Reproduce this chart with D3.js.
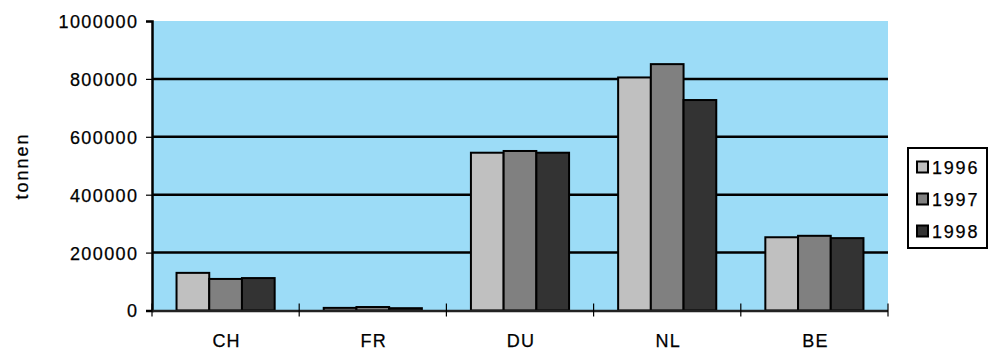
<!DOCTYPE html>
<html>
<head>
<meta charset="utf-8">
<script src="https://cdn.jsdelivr.net/npm/d3@7"></script>
<style>
  html, body { margin: 0; padding: 0; background: #fff; }
  svg { display: block; }
  text { font-family: "Liberation Sans", Arial, sans-serif; fill: #000; }
</style>
</head>
<body>
<svg id="chart" width="990" height="350"></svg>
<script>
// Tonnages per country, 1996-1998
const categories = ["CH", "FR", "DU", "NL", "BE"];
const years = ["1996", "1997", "1998"];
const values1996 = [130000, 9000, 545000, 805000, 253000];
const values1997 = [109000, 12000, 551000, 851000, 258000];
const values1998 = [112000, 8000, 545000, 727000, 250000];
const yTicks = [0, 200000, 400000, 600000, 800000, 1000000];
const yLabel = "tonnen";

const seriesValues = [values1996, values1997, values1998];
const colors = ["#c0c0c0", "#808080", "#333333"];

const svg = d3.select("#chart");
const plot = { left: 152, right: 888, top: 21, bottom: 310.5 };

const x0 = d3.scaleBand().domain(categories).range([plot.left, plot.right]).padding(0);
const x1 = d3.scaleBand().domain(years).range([0, x0.bandwidth()])
  .paddingInner(0).paddingOuter(0.75);
const y = d3.scaleLinear().domain([0, 1000000]).range([plot.bottom, plot.top]);
const color = d3.scaleOrdinal().domain(years).range(colors);

// plot background
svg.append("rect")
  .attr("x", plot.left).attr("y", plot.top)
  .attr("width", plot.right - plot.left).attr("height", plot.bottom - plot.top)
  .attr("fill", "#9cdcf7");

// horizontal gridlines
svg.append("g").selectAll("line")
  .data(yTicks.filter(v => v > 0 && v < 1000000))
  .join("line")
  .attr("x1", plot.left).attr("x2", plot.right)
  .attr("y1", d => y(d)).attr("y2", d => y(d))
  .attr("stroke", "#000").attr("stroke-width", 2.5);

// bars
const rows = categories.map((c, i) => ({ cat: c, vals: years.map((yr, j) => ({ yr, v: seriesValues[j][i] })) }));
svg.append("g").selectAll("g")
  .data(rows)
  .join("g")
  .attr("transform", d => `translate(${x0(d.cat)},0)`)
  .selectAll("rect")
  .data(d => d.vals)
  .join("rect")
  .attr("x", d => x1(d.yr))
  .attr("y", d => y(d.v))
  .attr("width", x1.bandwidth())
  .attr("height", d => y(0) - y(d.v))
  .attr("fill", d => color(d.yr))
  .attr("stroke", "#000")
  .attr("stroke-width", 2);

// y axis
const yAxis = svg.append("g")
  .attr("transform", `translate(${plot.left},0)`)
  .call(d3.axisLeft(y).tickValues(yTicks).tickFormat(d3.format("d")).tickSize(6).tickPadding(9));
yAxis.select(".domain").attr("stroke", "#000").attr("stroke-width", 2.5);
yAxis.selectAll(".tick line").attr("stroke", "#000").attr("stroke-width", 1.2);
yAxis.selectAll(".tick text")
  .style("font-family", "'Liberation Sans', Arial, sans-serif")
  .attr("font-size", 18)
  .attr("letter-spacing", "1.4px")
  .attr("dx", "1.4px")
  .attr("dy", "0.36em")
  .attr("fill", "#000")
  .attr("stroke", "#000").attr("stroke-width", 0.25);

// x axis line and boundary ticks
const xAxis = svg.append("g");
xAxis.append("line")
  .attr("x1", plot.left).attr("x2", plot.right)
  .attr("y1", plot.bottom + 0.5).attr("y2", plot.bottom + 0.5)
  .attr("stroke", "#222").attr("stroke-width", 2.5);
const boundaries = categories.map(c => x0(c)).concat([x0(categories[categories.length - 1]) + x0.bandwidth()]);
xAxis.selectAll("line.b")
  .data(boundaries)
  .join("line")
  .attr("class", "b")
  .attr("x1", d => d).attr("x2", d => d)
  .attr("y1", plot.bottom - 7).attr("y2", plot.bottom + 6)
  .attr("stroke", "#000").attr("stroke-width", 1.2);
xAxis.selectAll("text")
  .data(categories)
  .join("text")
  .attr("x", d => x0(d) + x0.bandwidth() / 2 + 1)
  .attr("y", 347)
  .attr("text-anchor", "middle")
  .attr("font-size", 18)
  .attr("letter-spacing", "1.2px")
  .attr("stroke", "#000").attr("stroke-width", 0.25)
  .text(d => d);

// y axis title
svg.append("text")
  .attr("transform", "translate(28,166) rotate(-90)")
  .attr("text-anchor", "middle")
  .attr("font-size", 18)
  .attr("letter-spacing", "2px")
  .attr("stroke", "#000").attr("stroke-width", 0.25)
  .text(yLabel);

// legend
const legend = svg.append("g");
legend.append("rect")
  .attr("x", 908).attr("y", 148).attr("width", 79).attr("height", 100)
  .attr("fill", "#fff").attr("stroke", "#000").attr("stroke-width", 2);
const items = legend.selectAll("g.item")
  .data(years)
  .join("g")
  .attr("class", "item")
  .attr("transform", (d, i) => `translate(917,${167 + i * 32})`);
items.append("rect")
  .attr("x", 0).attr("y", -5.5).attr("width", 11).attr("height", 11)
  .attr("fill", d => color(d)).attr("stroke", "#000").attr("stroke-width", 2);
items.append("text")
  .attr("x", 15).attr("y", 6.5)
  .attr("font-size", 18)
  .attr("letter-spacing", "1.8px")
  .attr("stroke", "#000").attr("stroke-width", 0.25)
  .text(d => d);
</script>
</body>
</html>
